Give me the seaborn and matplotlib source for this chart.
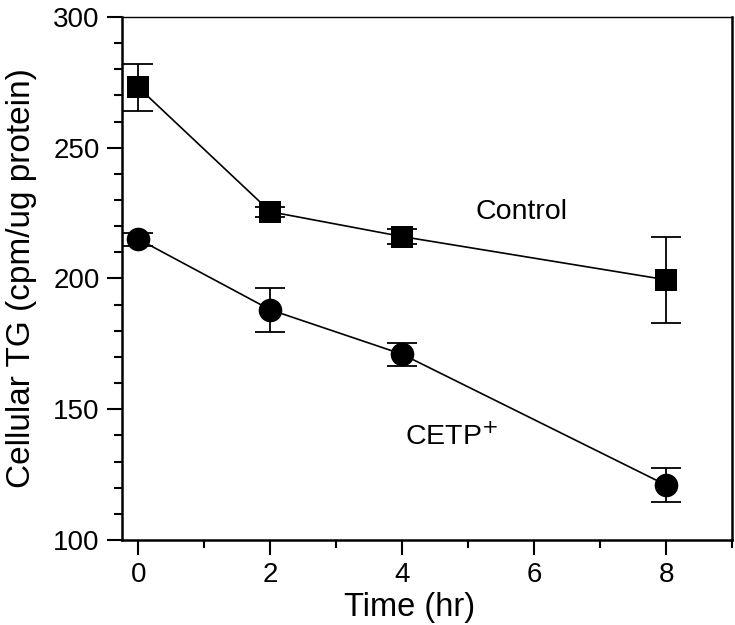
import numpy as np
import pandas as pd
import matplotlib
matplotlib.use("Agg")
import matplotlib.pyplot as plt
import seaborn as sns
from matplotlib.ticker import MultipleLocator

# data
time_hr = [0, 2, 4, 8]
control_tg = [273, 225.5, 216, 199.5]
control_err = [9, 2, 3, 16.5]
cetp_tg = [215, 188, 171, 121]
cetp_err = [2.5, 8.5, 4.5, 6.5]

control_df = pd.DataFrame({"time": time_hr, "tg": control_tg})
cetp_df = pd.DataFrame({"time": time_hr, "tg": cetp_tg})

sns.set_style("ticks")
plt.rcParams["font.family"] = ["Liberation Sans", "DejaVu Sans"]
plt.rcParams["text.color"] = "black"

fig = plt.figure(figsize=(7.35, 6.25), dpi=100)
ax = fig.add_axes([0.166, 0.136, 0.830, 0.837])

sns.lineplot(data=control_df, x="time", y="tg", marker="s", color="black",
             markersize=16, linewidth=1.2, markeredgewidth=0, ax=ax, zorder=3)
sns.lineplot(data=cetp_df, x="time", y="tg", marker="o", color="black",
             markersize=17, linewidth=1.2, markeredgewidth=0, ax=ax, zorder=3)

# error bars drawn separately (seaborn can't take given SEs)
ax.errorbar(time_hr, control_tg, yerr=control_err, fmt="none", ecolor="black",
            elinewidth=1.3, capsize=11, capthick=1.3, zorder=2)
ax.errorbar(time_hr, cetp_tg, yerr=cetp_err, fmt="none", ecolor="black",
            elinewidth=1.3, capsize=11, capthick=1.3, zorder=2)

ax.text(5.8, 225.5, "Control", fontsize=20.5, ha="center", va="center", color="black")
ax.text(4.75, 139.5, "CETP$^{+}$", fontsize=20.5, ha="center", va="center", color="black")

ax.set_xlim(-0.25, 9)
ax.set_ylim(100, 300)
ax.xaxis.set_major_locator(MultipleLocator(2))
ax.xaxis.set_minor_locator(MultipleLocator(1))
ax.yaxis.set_major_locator(MultipleLocator(50))
ax.yaxis.set_minor_locator(MultipleLocator(10))

ax.tick_params(which="major", length=11, width=1.5, labelsize=20, pad=5,
               direction="out", color="black", labelcolor="black")
ax.tick_params(which="minor", length=6, width=1.5, direction="out", color="black")

for side in ["left", "bottom", "right"]:
    ax.spines[side].set_linewidth(1.8)
    ax.spines[side].set_color("black")
ax.spines["top"].set_linewidth(1.0)
ax.spines["top"].set_color("black")

ax.set_xlabel("Time (hr)", fontsize=23.5, labelpad=5, color="black")
ax.xaxis.set_label_coords(0.472, -0.1)
ax.xaxis.label.set_va("top")
ax.set_ylabel("Cellular TG (cpm/ug protein)", fontsize=24, labelpad=12, color="black")

fig.savefig("out.png", dpi=100)
